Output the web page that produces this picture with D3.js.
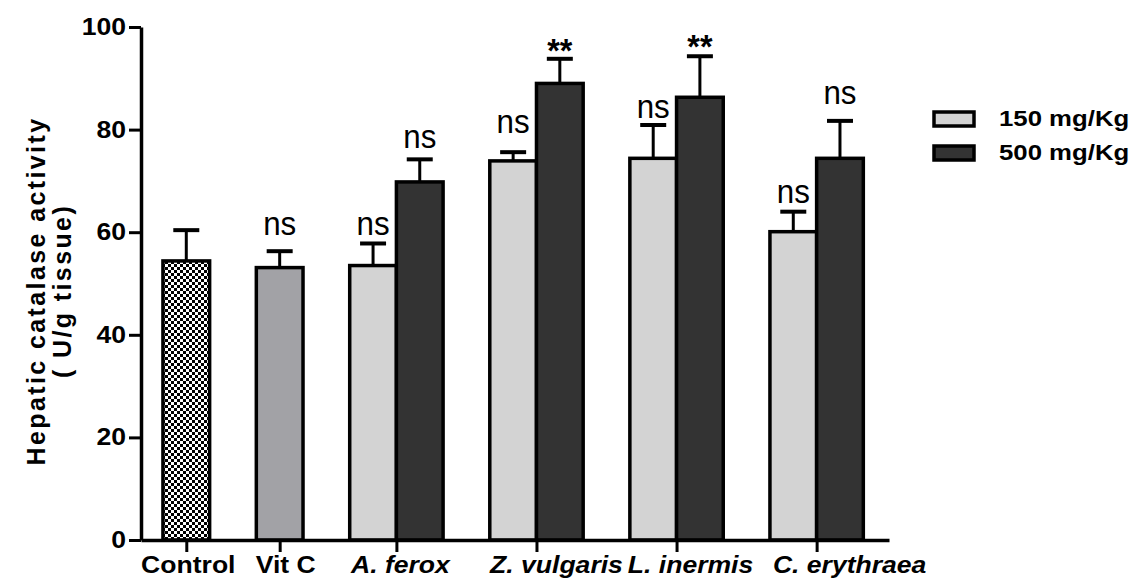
<!DOCTYPE html>
<html>
<head>
<meta charset="utf-8">
<script src="https://cdn.jsdelivr.net/npm/d3@7"></script>
<style>
  body { margin: 0; background: #fff; }
  svg text { font-family: "Liberation Sans", Arial, sans-serif; fill: #000; }
</style>
</head>
<body>
<div id="chart"></div>
<script>
// groups on the x axis, single bars first then the paired doses
var groups = ["Control", "Vit C", "A. ferox", "Z. vulgaris", "L. inermis", "C. erythraea"];
var italicGroups = ["A. ferox", "Z. vulgaris", "L. inermis", "C. erythraea"];

var controlValue = 54.4, controlErr = 6.0;
var vitCValue = 53.1, vitCErr = 3.2;

var doses = ["150 mg/Kg", "500 mg/Kg"];
var values150 = [53.5, 73.9, 74.4, 60.1];
var err150 = [4.3, 1.7, 6.5, 3.9];
var values500 = [69.8, 89.0, 86.3, 74.4];
var err500 = [4.4, 4.8, 8.0, 7.3];

// significance marks and the level (in U/g) they sit at
var vitCSig = "ns", vitCSigAt = 59.5;
var sig150 = ["ns", "ns", "ns", "ns"];
var sig150At = [59.5, 79.3, 82.2, 65.7];
var sig500 = ["ns", "**", "**", "ns"];
var sig500At = [76.4, 93.2, 94.0, 85.0];

var yTicks = [0, 20, 40, 60, 80, 100];

var width = 1133, height = 578;
var x0 = 141, x1 = 889, yBase = 540, yTop = 27;
var stretch = 1.155; // the reference text is drawn a bit wide

// bar list built from the arrays above
var bars = [];
var groupPos = [];
var slot = 0;
groups.forEach(function (g, i) {
  if (i === 0) {
    bars.push({ slot: slot, value: controlValue, err: controlErr, fill: "url(#checker)", sig: null });
    groupPos.push(slot + 0.5);
    slot += 2;
  } else if (i === 1) {
    bars.push({ slot: slot, value: vitCValue, err: vitCErr, fill: "#a2a2a6", sig: vitCSig, sigAt: vitCSigAt });
    groupPos.push(slot + 0.5);
    slot += 2;
  } else {
    var k = i - 2;
    bars.push({ slot: slot, value: values150[k], err: err150[k], fill: "#d3d3d3", sig: sig150[k], sigAt: sig150At[k] });
    bars.push({ slot: slot + 1, value: values500[k], err: err500[k], fill: "#333333", sig: sig500[k], sigAt: sig500At[k] });
    groupPos.push(slot + 1);
    slot += 3;
  }
});

var x = d3.scaleLinear().domain([-0.47, 15.55]).range([x0, x1]);
var y = d3.scaleLinear().domain([0, 100]).range([yBase, yTop]);
var slotW = x(1) - x(0);

var svg = d3.select("#chart").append("svg").attr("width", width).attr("height", height);

var defs = svg.append("defs");
var pat = defs.append("pattern").attr("id", "checker").attr("patternUnits", "userSpaceOnUse")
  .attr("width", 6).attr("height", 6);
pat.append("rect").attr("width", 6).attr("height", 6).attr("fill", "#fff");
pat.append("rect").attr("width", 3).attr("height", 3).attr("fill", "#000");
pat.append("rect").attr("x", 3).attr("y", 3).attr("width", 3).attr("height", 3).attr("fill", "#000");

// error bars (upper half only)
var eb = svg.append("g").attr("stroke", "#000").attr("stroke-width", 3);
bars.forEach(function (d) {
  var cx = x(d.slot + 0.5);
  eb.append("line").attr("x1", cx).attr("x2", cx).attr("y1", y(d.value)).attr("y2", y(d.value + d.err));
  eb.append("line").attr("x1", cx - 13).attr("x2", cx + 13)
    .attr("y1", y(d.value + d.err)).attr("y2", y(d.value + d.err)).attr("stroke-width", 4);
});

svg.append("g").selectAll("rect").data(bars).enter().append("rect")
  .attr("x", function (d) { return x(d.slot); })
  .attr("y", function (d) { return y(d.value); })
  .attr("width", slotW)
  .attr("height", function (d) { return yBase - y(d.value); })
  .attr("fill", function (d) { return d.fill; })
  .attr("stroke", "#000")
  .attr("stroke-width", 3.5);

// significance labels
svg.append("g").selectAll("text").data(bars.filter(function (d) { return d.sig; })).enter().append("text")
  .attr("text-anchor", "middle")
  .attr("transform", function (d) { return "translate(" + x(d.slot + 0.5) + "," + y(d.sigAt) + ") scale(0.95,1)"; })
  .style("font-size", function (d) { return d.sig === "**" ? "34px" : "33px"; })
  .style("font-weight", function (d) { return d.sig === "**" ? "bold" : "normal"; })
  .text(function (d) { return d.sig; });

// axes
var gY = svg.append("g").attr("transform", "translate(" + x0 + ",0)")
  .call(d3.axisLeft(y).tickValues(yTicks).tickSize(12).tickSizeOuter(0).tickFormat(""));
var gX = svg.append("g").attr("transform", "translate(0," + yBase + ")")
  .call(d3.axisBottom(x).tickValues(groupPos).tickSize(12).tickSizeOuter(0).tickFormat(""));
[gY, gX].forEach(function (g) {
  g.select(".domain").attr("stroke-width", 3.5);
  g.selectAll(".tick line").attr("stroke-width", 3);
});

svg.append("g").selectAll("text").data(yTicks).enter().append("text")
  .attr("text-anchor", "end")
  .attr("transform", function (d) { return "translate(" + (x0 - 15) + "," + (y(d) + 8) + ") scale(" + stretch + ",1)"; })
  .style("font-size", "23px").style("font-weight", "bold")
  .text(function (d) { return d; });

var labelShift = [2, 6, 4, 20, 14, 33];
svg.append("g").selectAll("text").data(groups).enter().append("text")
  .attr("text-anchor", "middle")
  .attr("transform", function (d, i) { return "translate(" + (x(groupPos[i]) + labelShift[i]) + ",573) scale(" + stretch + ",1)"; })
  .style("font-size", "23px").style("font-weight", "bold")
  .style("font-style", function (d) { return italicGroups.indexOf(d) >= 0 ? "italic" : "normal"; })
  .text(function (d) { return d; });

// y title
var title = svg.append("g").attr("transform", "translate(45,291) scale(1.05,1) rotate(-90)");
title.append("text").attr("text-anchor", "middle").style("font-size", "25px").style("font-weight", "bold")
  .style("letter-spacing", "2.4px").text("Hepatic catalase activity");
title.append("text").attr("text-anchor", "middle").attr("y", 25).style("font-size", "25px").style("font-weight", "bold")
  .style("letter-spacing", "2.4px").text("( U/g tissue)");

// legend
var legendFill = ["#d3d3d3", "#333333"];
var legend = svg.append("g").selectAll("g").data(doses).enter().append("g")
  .attr("transform", function (d, i) { return "translate(934," + (112 + i * 34) + ")"; });
legend.append("rect").attr("width", 40).attr("height", 14)
  .attr("fill", function (d, i) { return legendFill[i]; })
  .attr("stroke", "#000").attr("stroke-width", 3.5);
legend.append("text")
  .attr("transform", "translate(65,14) scale(1.12,1)")
  .style("font-size", "23px").style("font-weight", "bold")
  .text(function (d) { return d; });
</script>
</body>
</html>
